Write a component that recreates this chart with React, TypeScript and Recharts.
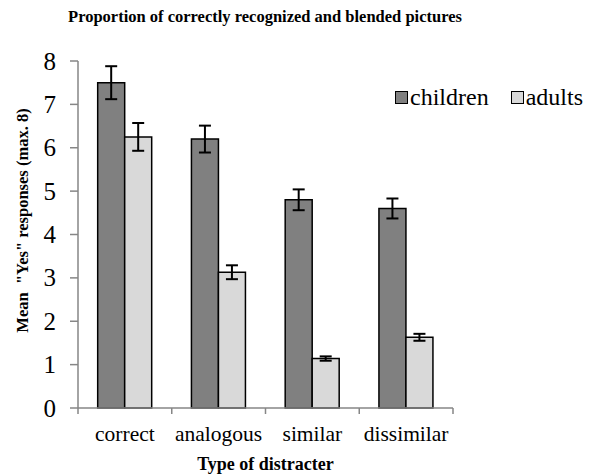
import React from 'react';
import { BarChart, Bar, XAxis, YAxis, ErrorBar, Legend, Label } from 'recharts';

const categories = ['correct', 'analogous', 'similar', 'dissimilar'];
const childrenMean = [7.5, 6.2, 4.8, 4.6];
const childrenErr = [0.38, 0.31, 0.24, 0.23];
const adultsMean = [6.25, 3.13, 1.14, 1.63];
const adultsErr = [0.32, 0.16, 0.05, 0.08];
const yTicks = [0, 1, 2, 3, 4, 5, 6, 7, 8];

const data = categories.map((c, i) => ({
  name: c,
  children: childrenMean[i],
  childrenErr: childrenErr[i],
  adults: adultsMean[i],
  adultsErr: adultsErr[i],
}));

const W = 597;
const H = 475;
const LEFT = 78;
const RIGHT = 144;
const BAND = (W - LEFT - RIGHT) / categories.length;
const AXIS = '#868686';
const FONT = 'Liberation Serif';

function XTick(props: any) {
  const { x, y, payload, index } = props;
  return (
    <g>
      <line x1={x - BAND / 2} y1={y - 8} x2={x - BAND / 2} y2={y - 2} stroke={AXIS} strokeWidth={1.5} />
      {index === categories.length - 1 && (
        <line x1={x + BAND / 2} y1={y - 8} x2={x + BAND / 2} y2={y - 2} stroke={AXIS} strokeWidth={1.5} />
      )}
      <text x={x} y={y + 25} textAnchor="middle" fontFamily={FONT} fontSize={21.5} fill="#000">
        {payload.value}
      </text>
    </g>
  );
}

function YTick(props: any) {
  const { x, y, payload } = props;
  return (
    <text x={x} y={y} dy={8.5} textAnchor="end" fontFamily={FONT} fontSize={25} fill="#000">
      {payload.value}
    </text>
  );
}

function YTitle(props: any) {
  const { viewBox } = props;
  const cx = 22.5;
  const cy = viewBox.y + viewBox.height / 2 - 14;
  return (
    <text
      x={cx}
      y={cy}
      transform={`rotate(-90, ${cx}, ${cy})`}
      textAnchor="middle"
      dominantBaseline="central"
      fontFamily={FONT}
      fontWeight="bold"
      fontSize={16.5}
      style={{ whiteSpace: 'pre' }}
      fill="#000"
    >
      {'Mean  "Yes" responses (max. 8)'}
    </text>
  );
}

function LegendBox() {
  const items = [
    { label: 'children', color: '#808080' },
    { label: 'adults', color: '#d9d9d9' },
  ];
  return (
    <div style={{ display: 'flex', fontFamily: FONT, fontSize: 24, color: '#000' }}>
      {items.map((it) => (
        <div key={it.label} style={{ display: 'flex', alignItems: 'center', marginRight: 22 }}>
          <span
            style={{
              display: 'inline-block',
              width: 11,
              height: 11,
              background: it.color,
              border: '1.5px solid #000',
              marginRight: 2,
            }}
          />
          <span>{it.label}</span>
        </div>
      ))}
    </div>
  );
}

export default function App() {
  return (
    <div style={{ position: 'absolute', left: 0, top: 0, width: W, height: H, background: '#fff' }}>
      <div
        style={{
          position: 'absolute',
          top: 7,
          left: 0,
          width: 530,
          textAlign: 'center',
          fontFamily: FONT,
          fontWeight: 'bold',
          fontSize: 16.5,
        }}
      >
        Proportion of correctly recognized and blended pictures
      </div>
      <BarChart
        width={W}
        height={H}
        data={data}
        margin={{ top: 61, right: RIGHT, bottom: 0, left: 0 }}
        barCategoryGap="21%"
        barGap={0}
      >
        <XAxis
          dataKey="name"
          height={67}
          stroke={AXIS}
          strokeWidth={1.5}
          tickLine={false}
          tick={<XTick />}
          interval={0}
        >
          <Label
            value="Type of distracter"
            position="insideBottom"
            offset={5}
            style={{ fontFamily: FONT, fontWeight: 'bold', fontSize: 18, fill: '#000' }}
          />
        </XAxis>
        <YAxis
          width={LEFT}
          domain={[0, 8]}
          ticks={yTicks}
          interval={0}
          stroke={AXIS}
          strokeWidth={1.5}
          tickSize={8}
          tickMargin={14}
          tick={<YTick />}
        >
          <Label content={<YTitle />} />
        </YAxis>
        <Legend
          layout="horizontal"
          verticalAlign="middle"
          align="center"
          wrapperStyle={{ top: 84, left: 395, width: 'auto' }}
          content={<LegendBox />}
        />
        <Bar dataKey="children" fill="#808080" stroke="#000" strokeWidth={1.5} isAnimationActive={false}>
          <ErrorBar dataKey="childrenErr" width={6} stroke="#000" strokeWidth={2} direction="y" />
        </Bar>
        <Bar dataKey="adults" fill="#d9d9d9" stroke="#000" strokeWidth={1.5} isAnimationActive={false}>
          <ErrorBar dataKey="adultsErr" width={6} stroke="#000" strokeWidth={2} direction="y" />
        </Bar>
      </BarChart>
    </div>
  );
}
